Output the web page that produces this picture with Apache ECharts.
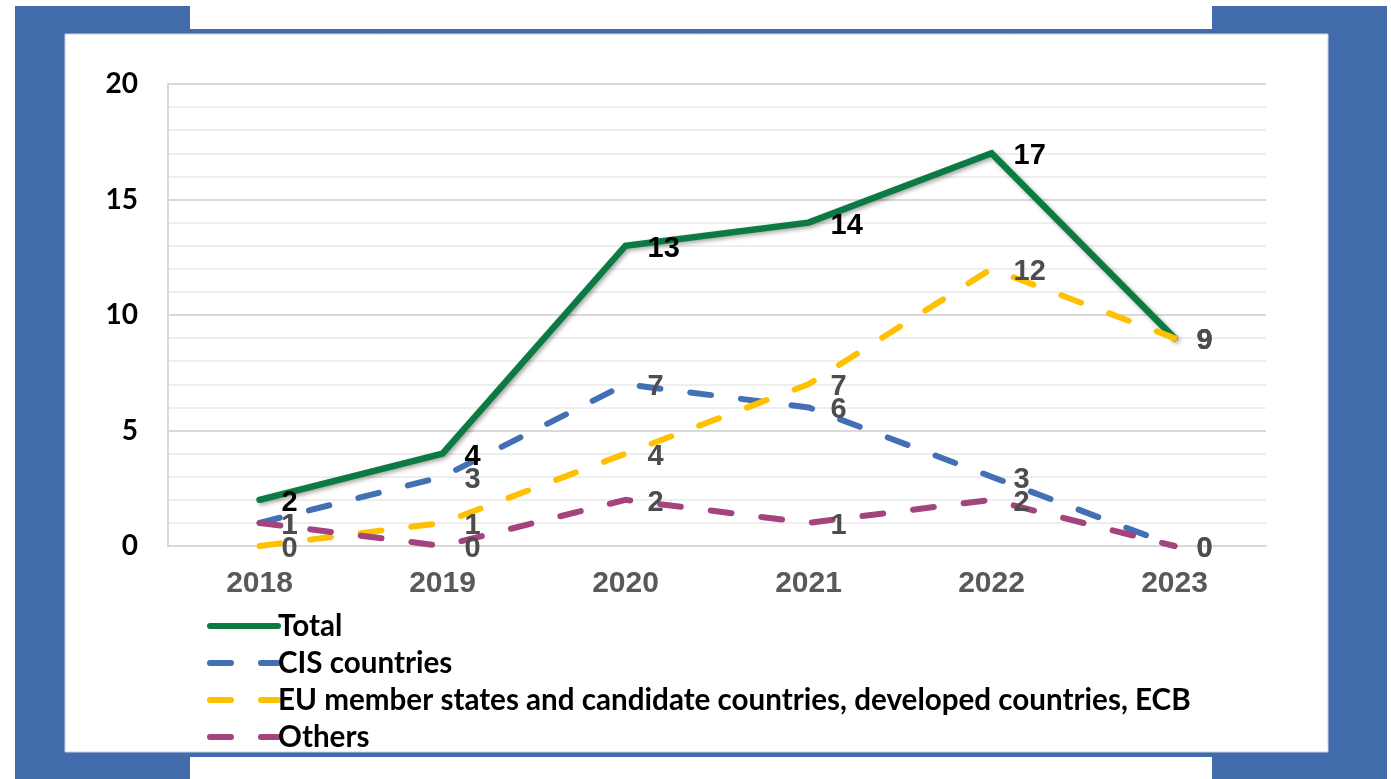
<!DOCTYPE html>
<html>
<head>
<meta charset="utf-8">
<script src="https://cdn.jsdelivr.net/npm/echarts@6/dist/echarts.min.js"></script>
<style>
  html, body { margin: 0; padding: 0; background: #ffffff; }
  #chart { width: 1391px; height: 779px; }
</style>
</head>
<body>
<div id="chart"></div>
<script>
// Years on the horizontal axis
const years = ['2018', '2019', '2020', '2021', '2022', '2023'];

// Counts per group and year
const total = [2, 4, 13, 14, 17, 9];
const cisCountries = [1, 3, 7, 6, 3, 0];
const euDeveloped = [0, 1, 4, 7, 12, 9];
const others = [1, 0, 2, 1, 2, 0];

// Series names shown in the legend
const seriesNames = [
  'Total',
  'CIS countries',
  'EU member states and candidate countries, developed countries, ECB',
  'Others'
];

const frameBlue = '#416BAA';
const labelFont = '"Liberation Sans", Arial, sans-serif';
const textFont = 'Lato, "Open Sans", sans-serif';
const dashPattern = [21, 30];

function valueLabel(color) {
  return {
    show: true,
    position: 'right',
    distance: 22,
    offset: [0, 3],
    color: color,
    fontFamily: labelFont,
    fontWeight: 'bold',
    fontSize: 29
  };
}

function dashedSeries(name, data, color) {
  return {
    name: name,
    type: 'line',
    data: data,
    symbol: 'circle',
    symbolSize: 0.1,
    itemStyle: { color: color },
    lineStyle: { color: color, width: 6, type: dashPattern, cap: 'round' },
    label: valueLabel('#4D4D4D'),
    emphasis: { disabled: true },
    animation: false
  };
}

const chart = echarts.init(document.getElementById('chart'), null, { renderer: 'canvas' });

chart.setOption({
  backgroundColor: '#ffffff',
  animation: false,
  graphic: [
    { type: 'rect', z: -10, shape: { x: 15, y: 6, width: 175, height: 773 }, style: { fill: frameBlue } },
    { type: 'rect', z: -10, shape: { x: 1212, y: 6, width: 175, height: 773 }, style: { fill: frameBlue } },
    { type: 'rect', z: -10, shape: { x: 190, y: 29, width: 1022, height: 728 }, style: { fill: frameBlue } },
    { type: 'rect', z: -9, shape: { x: 65, y: 34, width: 1263, height: 718 }, style: { fill: '#ffffff', stroke: '#c9d3e6', lineWidth: 1 } }
  ],
  grid: { left: 168, right: 125, top: 84, bottom: 233, containLabel: false },
  legend: {
    orient: 'vertical',
    left: 202,
    top: 605,
    itemWidth: 68,
    itemHeight: 14,
    itemGap: 5,
    itemStyle: { opacity: 0 },
    lineStyle: { width: 6, cap: 'round' },
    textStyle: {
      color: '#000000',
      fontFamily: textFont,
      fontWeight: 'bold',
      fontSize: 29.6,
      lineHeight: 32,
      padding: [0, 0, 0, -5]
    },
    selectedMode: false,
    data: seriesNames
  },
  xAxis: {
    type: 'category',
    data: years,
    boundaryGap: true,
    axisLine: { lineStyle: { color: '#d9d9d9', width: 2 } },
    axisTick: { show: false },
    axisLabel: {
      color: '#595959',
      fontFamily: labelFont,
      fontWeight: 'bold',
      fontSize: 30,
      margin: 23
    },
    splitLine: { show: false }
  },
  yAxis: {
    type: 'value',
    min: 0,
    max: 20,
    interval: 5,
    axisLine: { show: true, lineStyle: { color: '#d9d9d9', width: 2 } },
    axisTick: { show: false },
    axisLabel: {
      color: '#000000',
      fontFamily: textFont,
      fontWeight: 'bold',
      fontSize: 28,
      margin: 30
    },
    splitLine: { show: true, lineStyle: { color: '#d9d9d9', width: 2 } },
    minorTick: { show: false, splitNumber: 5 },
    minorSplitLine: { show: true, lineStyle: { color: '#eeeeee', width: 2 } }
  },
  series: [
    {
      name: seriesNames[0],
      type: 'line',
      data: total,
      symbol: 'circle',
      symbolSize: 0.1,
      itemStyle: { color: '#0B7B43' },
      lineStyle: {
        color: '#0B7B43',
        width: 6.5,
        cap: 'round',
        join: 'miter',
        shadowColor: 'rgba(0,0,0,0.35)',
        shadowBlur: 4,
        shadowOffsetX: 2,
        shadowOffsetY: 2
      },
      label: valueLabel('#000000'),
      emphasis: { disabled: true },
      animation: false
    },
    dashedSeries(seriesNames[1], cisCountries, '#4370B4'),
    dashedSeries(seriesNames[2], euDeveloped, '#FFC000'),
    dashedSeries(seriesNames[3], others, '#A4437D')
  ]
});
</script>
</body>
</html>
